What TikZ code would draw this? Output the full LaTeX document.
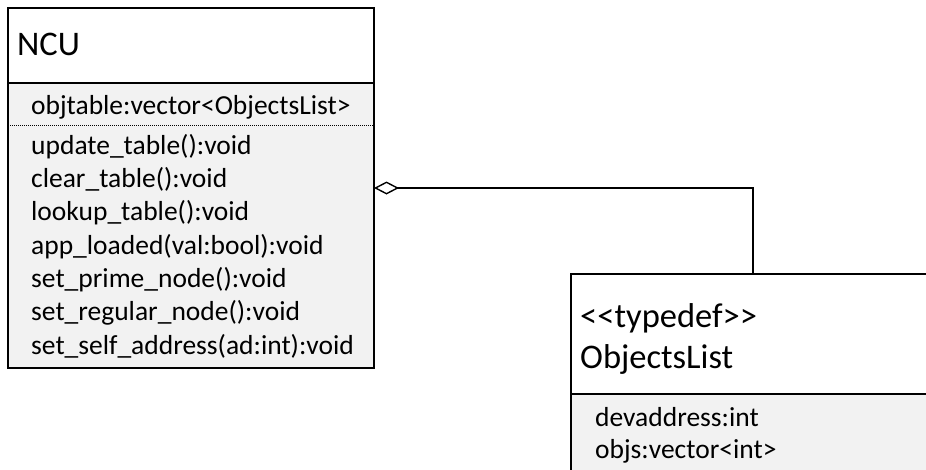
\documentclass[tikz,border=0pt]{standalone}
\usepackage{fontspec}
\setmainfont{Carlito}[Ligatures=TeXOff]
\usetikzlibrary{arrows.meta}
\definecolor{compartment}{HTML}{F2F2F2}
\tikzset{
  x=1pt, y=-1pt,
  box/.style={draw=black, line width=1.6pt, rectangle, anchor=north west, inner sep=0pt, outer sep=0pt},
  titlebox/.style={box, fill=white},
  bodybox/.style={box, fill=compartment},
  title/.style={anchor=base west, inner sep=0pt, font=\fontsize{34.5}{40}\selectfont},
  member/.style={anchor=base west, inner sep=0pt, font=\fontsize{27.5}{33}\selectfont},
  aggregation/.style={draw=black, line width=1.4pt,
    -{Diamond[open, fill=white, length=25pt, width=13pt, line width=1.4pt]}},
}
\begin{document}
\begin{tikzpicture}
\useasboundingbox (0,0) rectangle (926,469);

% class NCU
\node[titlebox, minimum width=366pt, minimum height=75pt] (ncuTitle) at (8,8) {};
\node[bodybox, minimum width=366pt, minimum height=285pt] (ncuBody) at (8,83) {};
\node[title] (ncuName) at (17,55) {NCU};
\draw[line width=0.7pt, dash pattern=on 1pt off 1pt] (ncuBody.west |- 0,125) -- (ncuBody.east |- 0,125);
\node[member] (ncuA1) at (31,114) {objtable:vector<ObjectsList>};
\node[member] (ncuM1) at (31,154) {update\_table():void};
\node[member] (ncuM2) at (31,187) {clear\_table():void};
\node[member] (ncuM3) at (31,220) {lookup\_table():void};
\node[member] (ncuM4) at (31,254) {app\_loaded(val:bool):void};
\node[member] (ncuM5) at (31,287) {set\_prime\_node():void};
\node[member] (ncuM6) at (31,320) {set\_regular\_node():void};
\node[member] (ncuM7) at (31,354) {set\_self\_address(ad:int):void};

% typedef ObjectsList (runs past the right and bottom edges)
\begin{scope}
\clip (0,0) rectangle (926,469);
\node[titlebox, minimum width=400pt, minimum height=120pt] (olTitle) at (571,274) {};
\node[bodybox, minimum width=400pt, minimum height=100pt] (olBody) at (571,394) {};
\node[title] (olStereo) at (580,327) {<<typedef>>};
\node[title] (olName) at (580,368) {ObjectsList};
\node[member] (olA1) at (595,426) {devaddress:int};
\node[member] (olA2) at (595,458) {objs:vector<int>};
\end{scope}

% aggregation: NCU holds ObjectsList entries
\coordinate (bend) at (753,188);
\draw[aggregation] (olTitle.north -| bend) |- (ncuBody.east |- bend);
\end{tikzpicture}
\end{document}
